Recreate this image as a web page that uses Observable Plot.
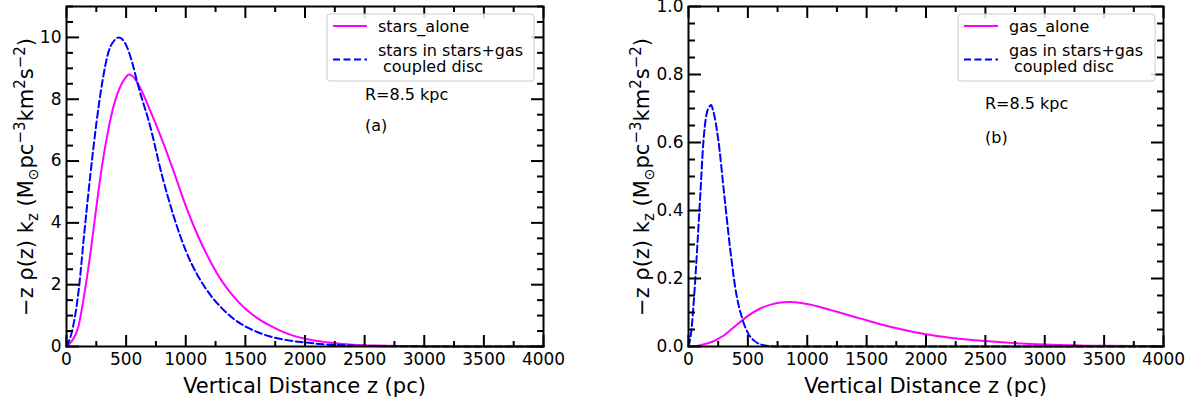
<!DOCTYPE html>
<html>
<head>
<meta charset="utf-8">
<script src="https://cdn.jsdelivr.net/npm/d3@7"></script>
<script src="https://cdn.jsdelivr.net/npm/@observablehq/plot@0.6"></script>
<style>
  body { margin: 0; background: #fff; font-family: "DejaVu Sans", sans-serif; }
  #wrap { position: relative; width: 1197px; height: 403px; overflow: hidden; background: #fff; }
  #wrap svg { position: absolute; top: 0; }
</style>
</head>
<body>
<div id="wrap"></div>
<script>
// ---------- tick values ----------
const xMajor = [0, 500, 1000, 1500, 2000, 2500, 3000, 3500, 4000];
const xMinor = [250, 750, 1250, 1750, 2250, 2750, 3250, 3750];
const starsYMajor = [0, 2, 4, 6, 8, 10];
const starsYMinor = [0.5, 1, 1.5, 2.5, 3, 3.5, 4.5, 5, 5.5, 6.5, 7, 7.5, 8.5, 9, 9.5, 10.5, 11];
const gasYMajor = [0, 0.2, 0.4, 0.6, 0.8, 1.0];
const gasYMinor = [0.05, 0.1, 0.15, 0.25, 0.3, 0.35, 0.45, 0.5, 0.55, 0.65, 0.7, 0.75, 0.85, 0.9, 0.95];

// ---------- panel (a): stars ----------
const zStarsAlone = [0, 50, 100, 150, 200, 250, 300, 350, 400, 450, 500, 520, 550, 600, 700, 800, 900, 1000, 1100, 1200, 1300, 1400, 1500, 1600, 1700, 1800, 2000, 2200, 2400, 2600, 2800, 3000, 3500, 4000];
const vStarsAlone = [0, 0.2, 0.65, 1.7, 3.0, 4.5, 5.9, 7.0, 7.85, 8.4, 8.72, 8.8, 8.76, 8.5, 7.65, 6.7, 5.65, 4.55, 3.6, 2.8, 2.13, 1.62, 1.22, 0.92, 0.69, 0.5, 0.25, 0.13, 0.06, 0.03, 0.013, 0.006, 0.001, 0];
const zStarsCoupled = [0, 50, 100, 150, 200, 250, 300, 350, 400, 440, 500, 550, 600, 700, 800, 900, 1000, 1100, 1200, 1300, 1400, 1500, 1600, 1700, 1800, 2000, 2200, 2400, 2600, 3000, 4000];
const vStarsCoupled = [0, 0.55, 1.75, 3.7, 5.55, 7.2, 8.55, 9.5, 9.9, 10.0, 9.75, 9.2, 8.45, 7.15, 5.55, 4.2, 3.1, 2.3, 1.7, 1.25, 0.9, 0.65, 0.47, 0.33, 0.24, 0.13, 0.06, 0.03, 0.015, 0.004, 0];

// ---------- panel (b): gas ----------
const zGasAlone = [0, 100, 200, 300, 400, 500, 600, 700, 800, 850, 900, 1000, 1100, 1200, 1300, 1400, 1500, 1600, 1800, 2000, 2200, 2500, 2800, 3000, 3500, 4000];
const vGasAlone = [0, 0.004, 0.014, 0.033, 0.062, 0.09, 0.111, 0.124, 0.130, 0.131, 0.130, 0.125, 0.117, 0.107, 0.097, 0.087, 0.077, 0.067, 0.05, 0.036, 0.026, 0.016, 0.009, 0.006, 0.002, 0.001];
const zGasCoupled = [0, 25, 50, 75, 100, 125, 150, 175, 190, 210, 250, 300, 350, 400, 450, 500, 550, 600, 700, 800, 4000];
const vGasCoupled = [0, 0.05, 0.16, 0.30, 0.45, 0.60, 0.68, 0.705, 0.71, 0.69, 0.61, 0.45, 0.29, 0.16, 0.085, 0.04, 0.018, 0.007, 0.001, 0, 0];

// ---------- labels ----------
const xLabel = "Vertical Distance z (pc)";
const legendStars = ["stars_alone", "stars in stars+gas", "coupled disc"];
const legendGas = ["gas_alone", "gas in stars+gas", "coupled disc"];
const radiusLabel = "R=8.5 kpc";

const rows = (zs, vs) => zs.map((z, i) => ({z, v: vs[i]}));

function panel(cfg) {
  const H = 403, mT = 6, mB = 57;
  const {width, mL, mR} = cfg;
  const pw = width - mL - mR, ph = H - mT - mB;
  const tk = {fill: "none", label: null, strokeWidth: 2};
  const svg = Plot.plot({
    width, height: H,
    marginLeft: mL, marginRight: mR, marginTop: mT, marginBottom: mB,
    style: {fontFamily: '"DejaVu Sans", sans-serif', fontSize: "17px", background: "white", overflow: "visible", color: "black"},
    x: {domain: [0, 4000]},
    y: {domain: cfg.yDomain},
    marks: [
      Plot.line(cfg.solid, {x: "z", y: "v", stroke: "#ff00ff", strokeWidth: 2, curve: "monotone-x"}),
      Plot.line(cfg.dashed, {x: "z", y: "v", stroke: "#0000ff", strokeWidth: 2, strokeDasharray: "7,3.5", curve: "monotone-x"}),
      Plot.frame({strokeWidth: 2}),
      // inward ticks: bottom
      Plot.axisX(xMajor, {anchor: "top", tickSize: 12, dy: ph, ...tk}),
      Plot.axisX(xMinor, {anchor: "top", tickSize: 6, dy: ph, ...tk}),
      // top
      Plot.axisX(xMajor, {anchor: "bottom", tickSize: 12, dy: -ph, ...tk}),
      Plot.axisX(xMinor, {anchor: "bottom", tickSize: 6, dy: -ph, ...tk}),
      // left
      Plot.axisY(cfg.yMajor, {anchor: "right", tickSize: 12, dx: -pw, ...tk}),
      Plot.axisY(cfg.yMinor, {anchor: "right", tickSize: 6, dx: -pw, ...tk}),
      // right
      Plot.axisY(cfg.yMajor, {anchor: "left", tickSize: 12, dx: pw, ...tk}),
      Plot.axisY(cfg.yMinor, {anchor: "left", tickSize: 6, dx: pw, ...tk}),
      // tick labels
      Plot.axisX(xMajor, {anchor: "bottom", tickSize: 0, tickPadding: 6, label: null, tickFormat: d => String(d)}),
      Plot.axisY(cfg.yMajor, {anchor: "left", tickSize: 0, tickPadding: 5, label: null, tickFormat: cfg.yFormat})
    ]
  });
  const s = d3.select(svg);
  const F = '"DejaVu Sans", sans-serif';

  // x label
  s.append("text").attr("x", mL + pw / 2).attr("y", 393)
    .attr("text-anchor", "middle").attr("font-family", F).attr("font-size", 21)
    .attr("fill", "black").text(xLabel);

  // y label with sub/superscripts
  const yl = s.append("text")
    .attr("transform", `translate(${cfg.yLabelX},177) rotate(-90)`)
    .attr("text-anchor", "middle").attr("font-family", F).attr("font-size", 21).attr("fill", "black");
  const parts = [
    ["−z ρ(z) k", 21, 0], ["z", 15, 5], [" (M", 21, -5], ["⊙", 14, 5], ["pc", 21, -5],
    ["−3", 15, -8], ["km", 21, 8], ["2", 15, -8], ["s", 21, 8], ["−2", 15, -8], [")", 21, 8]
  ];
  for (const [t, fs, dy] of parts) {
    yl.append("tspan").attr("font-size", fs).attr("dy", dy).text(t);
  }

  const txt = (x, y, t) => s.append("text").attr("x", x).attr("y", y)
    .attr("text-anchor", "start").attr("font-family", F).attr("font-size", 16)
    .attr("fill", "black").text(t);

  // annotations
  txt(cfg.annX, cfg.rY, radiusLabel);
  txt(cfg.annX, cfg.tagY, cfg.tag);

  // legend
  s.append("rect").attr("x", cfg.legX).attr("y", 14).attr("width", cfg.legW).attr("height", 67)
    .attr("rx", 3).attr("fill", "white").attr("fill-opacity", 0.85).attr("stroke", "#cccccc").attr("stroke-width", 1);
  s.append("line").attr("x1", cfg.legX + 6).attr("x2", cfg.legX + 40).attr("y1", 26).attr("y2", 26)
    .attr("stroke", "#ff00ff").attr("stroke-width", 2);
  s.append("line").attr("x1", cfg.legX + 6).attr("x2", cfg.legX + 40).attr("y1", 59.5).attr("y2", 59.5)
    .attr("stroke", "#0000ff").attr("stroke-width", 2).attr("stroke-dasharray", "7,3.5");
  const tx = cfg.legX + 51;
  txt(tx, 31.5, cfg.legend[0]);
  txt(tx, 55.5, cfg.legend[1]);
  txt(tx + 5, 71.5, cfg.legend[2]);

  svg.style.left = cfg.left + "px";
  return svg;
}

const wrap = document.getElementById("wrap");
wrap.appendChild(panel({
  left: 0, width: 598, mL: 66, mR: 55,
  yDomain: [0, 11], yMajor: starsYMajor, yMinor: starsYMinor, yFormat: d => String(d),
  solid: rows(zStarsAlone, vStarsAlone), dashed: rows(zStarsCoupled, vStarsCoupled),
  legend: legendStars, legX: 327, legW: 207,
  annX: 365, rY: 99.5, tagY: 131, tag: "(a)", yLabelX: 32.5
}));
wrap.appendChild(panel({
  left: 598, width: 599, mL: 90, mR: 34,
  yDomain: [0, 1], yMajor: gasYMajor, yMinor: gasYMinor, yFormat: d3.format(".1f"),
  solid: rows(zGasAlone, vGasAlone), dashed: rows(zGasCoupled, vGasCoupled),
  legend: legendGas, legX: 360, legW: 197,
  annX: 387, rY: 108.5, tagY: 142.5, tag: "(b)", yLabelX: 51
}));
</script>
</body>
</html>
